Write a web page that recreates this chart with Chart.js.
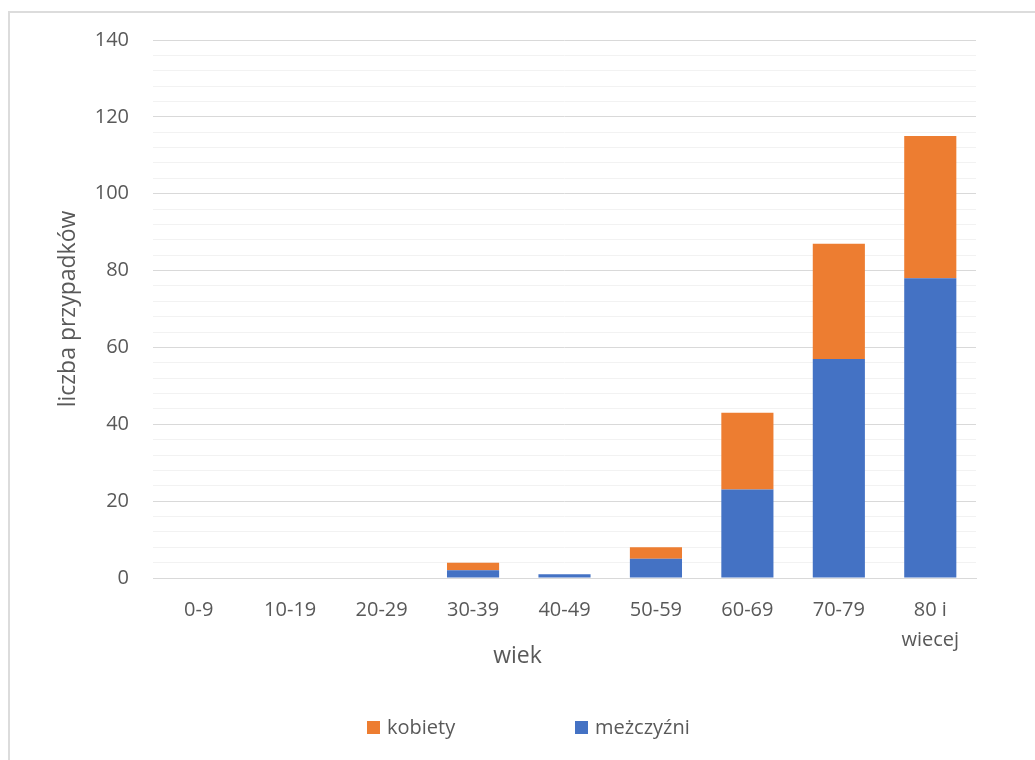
<!DOCTYPE html>
<html>
<head>
<meta charset="utf-8">
<script src="https://cdn.jsdelivr.net/npm/chart.js@4.4.1/dist/chart.umd.min.js"></script>
<style>
  html, body { margin: 0; padding: 0; background: #fff; overflow: hidden; }
  #wrap { position: relative; width: 1035px; height: 760px; }
  #frame { position: absolute; left: 8px; top: 11px; width: 1100px; height: 800px;
           border-left: 2px solid #dcdcdc; border-top: 2px solid #dcdcdc; pointer-events: none; }
  canvas { position: absolute; left: 0; top: 0; }
</style>
</head>
<body>
<div id="wrap">
  <canvas id="c" width="1035" height="760"></canvas>
  <div id="frame"></div>
</div>
<script>
// Age groups and case counts
const categories = ['0-9', '10-19', '20-29', '30-39', '40-49', '50-59', '60-69', '70-79', ['80 i', 'wiecej']];
const men   = [0, 0, 0, 2, 1, 5, 23, 57, 78];
const women = [0, 0, 0, 2, 0, 3, 20, 30, 37];
const seriesLabels = ['meżczyźni', 'kobiety'];
const seriesColors = ['#4472C4', '#ED7D31'];
const yMax = 140;
const yMajorStep = 20;
const yMinorStep = 4;
const xTitle = 'wiek';
const yTitle = 'liczba przypadków';

const FONT = '"Open Sans", "DejaVu Sans", sans-serif';
const TEXT = '#595959';

// Bottom legend (kobiety first) and centred x-axis caption
const footerPlugin = {
  id: 'footer',
  afterDraw(chart) {
    const ctx = chart.ctx;
    ctx.save();
    ctx.fillStyle = TEXT;
    ctx.font = '23px ' + FONT;
    ctx.textAlign = 'center';
    ctx.textBaseline = 'middle';
    ctx.fillText(xTitle, chart.width / 2, 656);

    const box = 13, gap = 7, slot = 208;
    let x = 367;
    const yc = 727.5;
    ctx.font = '20px ' + FONT;
    ctx.textAlign = 'left';
    const ds = chart.data.datasets.slice().reverse();
    ds.forEach(d => {
      ctx.fillStyle = d.backgroundColor;
      ctx.fillRect(x, yc - box / 2, box, box);
      ctx.fillStyle = TEXT;
      ctx.fillText(d.label, x + box + gap, yc + 1);
      x += slot;
    });
    ctx.restore();
  }
};

new Chart(document.getElementById('c'), {
  type: 'bar',
  data: {
    labels: categories,
    datasets: [
      { label: seriesLabels[0], data: men,   backgroundColor: seriesColors[0] },
      { label: seriesLabels[1], data: women, backgroundColor: seriesColors[1] }
    ]
  },
  options: {
    responsive: false,
    animation: false,
    devicePixelRatio: 1,
    layout: { padding: { left: 0, top: 40, right: 59, bottom: 0 } },
    datasets: { bar: { categoryPercentage: 1, barPercentage: 0.57, borderWidth: 0 } },
    plugins: { legend: { display: false }, tooltip: { enabled: false } },
    scales: {
      x: {
        stacked: true,
        grid: { display: false, drawTicks: false },
        border: { display: true, color: '#d9d9d9', width: 1 },
        ticks: { color: TEXT, font: { family: FONT, size: 20, lineHeight: 1.5 },
                 padding: 17, maxRotation: 0, autoSkip: false },
        afterFit(s) { s.height = 182; }
      },
      y: {
        stacked: true,
        min: 0, max: yMax,
        grid: {
          drawTicks: false,
          color: c => (c.tick && c.tick.value % yMajorStep === 0) ? '#d9d9d9' : '#f2f2f2',
          lineWidth: 1
        },
        border: { display: false },
        ticks: {
          stepSize: yMinorStep, autoSkip: false, padding: 24, color: TEXT,
          font: { family: FONT, size: 20 },
          callback: v => (v % yMajorStep === 0 ? v : '')
        },
        title: { display: true, text: yTitle, color: TEXT,
                 font: { family: FONT, size: 23 }, padding: { top: 55, bottom: 0 } },
        afterFit(s) { s.width = 153; }
      }
    }
  },
  plugins: [footerPlugin]
});
</script>
</body>
</html>
